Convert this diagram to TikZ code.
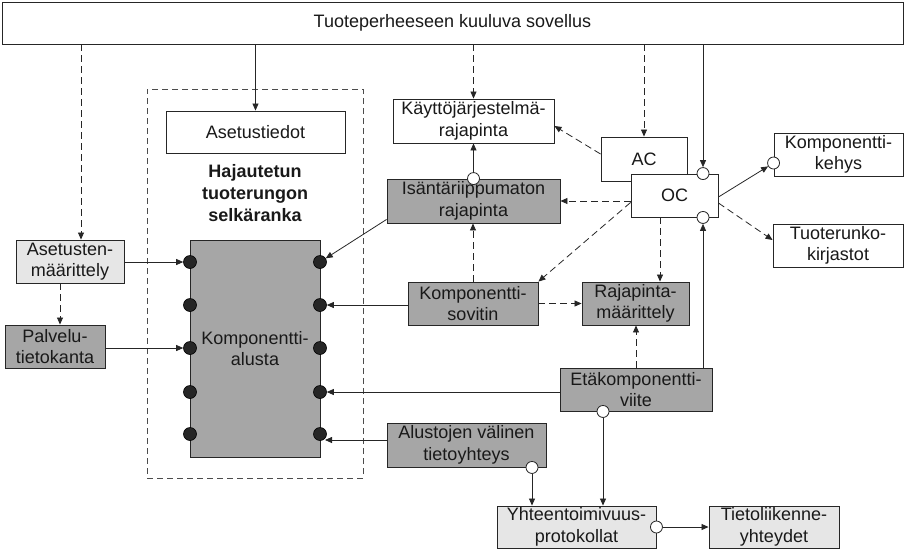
\documentclass[tikz,border=0pt]{standalone}
\usepackage{fontspec}
\setmainfont{Liberation Sans}
\usetikzlibrary{arrows.meta}
\definecolor{dg}{HTML}{A6A6A6}
\definecolor{lg}{HTML}{E6E6E6}
\definecolor{ln}{HTML}{262626}
\begin{document}
\begin{tikzpicture}[x=1pt,y=-1pt,
  box/.style={draw=ln, line width=0.9pt, inner sep=0pt, align=center,
    font=\fontsize{18}{21.5}\selectfont, text=black!90},
  dbox/.style={box, fill=dg},
  lbox/.style={box, fill=lg},
  wbox/.style={box, fill=white},
  titletext/.style={align=center, font=\fontsize{18}{22}\selectfont\bfseries, text=black!90},
  frm/.style={draw=black!70, line width=1pt, dash pattern=on 6pt off 4pt, inner sep=0pt},
  port/.style={circle, draw=ln, fill=white, line width=0.8pt, minimum size=12pt, inner sep=0pt},
  dotn/.style={circle, draw=black, fill=black!85, line width=0.6pt, minimum size=13pt, inner sep=0pt},
  con/.style={draw=ln, line width=0.8pt},
  arr/.style={con, -{Triangle[length=7pt,width=6pt]}},
  dsh/.style={dash pattern=on 7pt off 4pt}]
\useasboundingbox (0,0) rectangle (905,550);

% frame and boxes
\node[frm, minimum width=216, minimum height=389] (frame) at (255,283.5) {};
\node[wbox, minimum width=901, minimum height=42] (top) at (452.5,23) {Tuoteperheeseen kuuluva sovellus};
\node[wbox, minimum width=179, minimum height=42] (ase) at (255.5,132) {Asetustiedot};
\node[titletext] (ttl) at (255,193) {Hajautetun\\tuoterungon\\selkäranka};
\node[dbox, minimum width=130, minimum height=217] (alusta) at (255,348.5) {Komponentti-\\alusta};
\node[lbox, minimum width=108, minimum height=43] (asm) at (70,261.5) {Asetusten-\\määrittely};
\node[dbox, minimum width=100, minimum height=43] (pal) at (55,346.5) {Palvelu-\\tietokanta};
\node[wbox, minimum width=161, minimum height=44] (kay) at (473.5,121) {Käyttöjärjestelmä-\\rajapinta};
\node[dbox, minimum width=173, minimum height=44] (isa) at (473.5,201) {Isäntäriippumaton\\rajapinta};
\node[wbox, minimum width=86, minimum height=44] (ac) at (644,159) {AC};
\node[wbox, minimum width=87, minimum height=43] (oc) at (674.5,195.5) {OC};
\node[wbox, minimum width=129, minimum height=43] (kk) at (838.5,154.5) {Komponentti-\\kehys};
\node[wbox, minimum width=130, minimum height=43] (tk) at (838,245.5) {Tuoterunko-\\kirjastot};
\node[dbox, minimum width=130, minimum height=43] (ks) at (473,303.5) {Komponentti-\\sovitin};
\node[dbox, minimum width=107, minimum height=43] (rm) at (635.5,303.5) {Rajapinta-\\määrittely};
\node[dbox, minimum width=152, minimum height=43] (eta) at (636,389.5) {Etäkomponentti-\\viite};
\node[dbox, minimum width=159, minimum height=44] (alu) at (466.5,445) {Alustojen välinen\\tietoyhteys};
\node[lbox, minimum width=159, minimum height=42] (yht) at (576.5,527) {Yhteentoimivuus-\\protokollat};
\node[lbox, minimum width=130, minimum height=42] (tie) at (774,527) {Tietoliikenne-\\yhteydet};

% dots on the platform
\foreach \n/\y in {1/262,2/305,3/348,4/392,5/434}{
  \node[dotn] (L\n) at (190,\y) {};
  \node[dotn] (R\n) at (320,\y) {};
}

% open ports
\node[port] (cIsa) at (isa.north) {};
\node[port] (cOCt) at ([xshift=28.5pt]oc.north) {};
\node[port] (cOCb) at ([xshift=28.5pt]oc.south) {};
\node[port] (cKk) at ([yshift=-8.5pt]kk.west) {};
\node[port] (cEta) at ([xshift=-33pt]eta.south) {};
\node[port] (cAlu) at ([xshift=65.5pt]alu.south) {};
\node[port] (cYht) at (yht.east) {};

% helper coordinates
\coordinate (pAsm) at ([xshift=11pt]asm.north);
\coordinate (pPal) at ([xshift=5pt]pal.north);
\coordinate (pRm) at ([xshift=24.5pt]rm.north);
\coordinate (pR5) at ([xshift=5pt,yshift=-6pt]R5.center);

% connectors from the top box
\draw[arr,dsh] (top.south -| pAsm) -- (pAsm);
\draw[arr] (top.south -| ase.north) -- (ase.north);
\draw[arr,dsh] (top.south -| kay.north) -- (kay.north);
\draw[arr,dsh] (top.south -| ac.north) -- (ac.north);
\draw[arr] (top.south -| cOCt) -- (cOCt);

% left side
\draw[arr] (asm.east |- L1) -- (L1);
\draw[arr] (pal.east |- L3) -- (L3);
\draw[arr,dsh] (asm.south -| pPal) -- (pPal);

% centre
\draw[arr] ([yshift=4pt]isa.south west) -- (R1);
\draw[arr] (cIsa) -- (cIsa |- kay.south);
\draw[arr,dsh] (ks.north) -- (ks.north |- isa.south);
\draw[arr,dsh] ([yshift=5pt]ac.west) -- ([yshift=-5pt]kay.east);
\draw[arr,dsh] (oc.west |- isa.east) -- (isa.east);
\draw[arr,dsh] ([yshift=-7pt]oc.west) -- (ks.north east);
\draw[arr,dsh] (oc.south -| pRm) -- (pRm);
\draw[arr,dsh] (ks.east) -- (rm.west);
\draw[arr] (ks.west |- R2) -- (R2);
\draw[arr] (eta.west |- R4) -- (R4);
\draw[arr,dsh] (eta.north) -- (eta.north |- rm.south);
\draw[arr] (eta.north -| cOCb) -- (cOCb);
\draw[arr] (alu.west |- pR5) -- (pR5);

% bottom
\draw[arr] (cEta) -- (cEta |- yht.north);
\draw[arr] (cAlu) -- (cAlu |- yht.north);
\draw[arr] (cYht) -- (cYht -| tie.west);

% right side
\draw[arr] ([yshift=-1.5pt]oc.east) -- (cKk);
\draw[arr,dsh] ([yshift=-7.5pt]oc.east) -- ([yshift=5.5pt]tk.west);
\end{tikzpicture}
\end{document}
